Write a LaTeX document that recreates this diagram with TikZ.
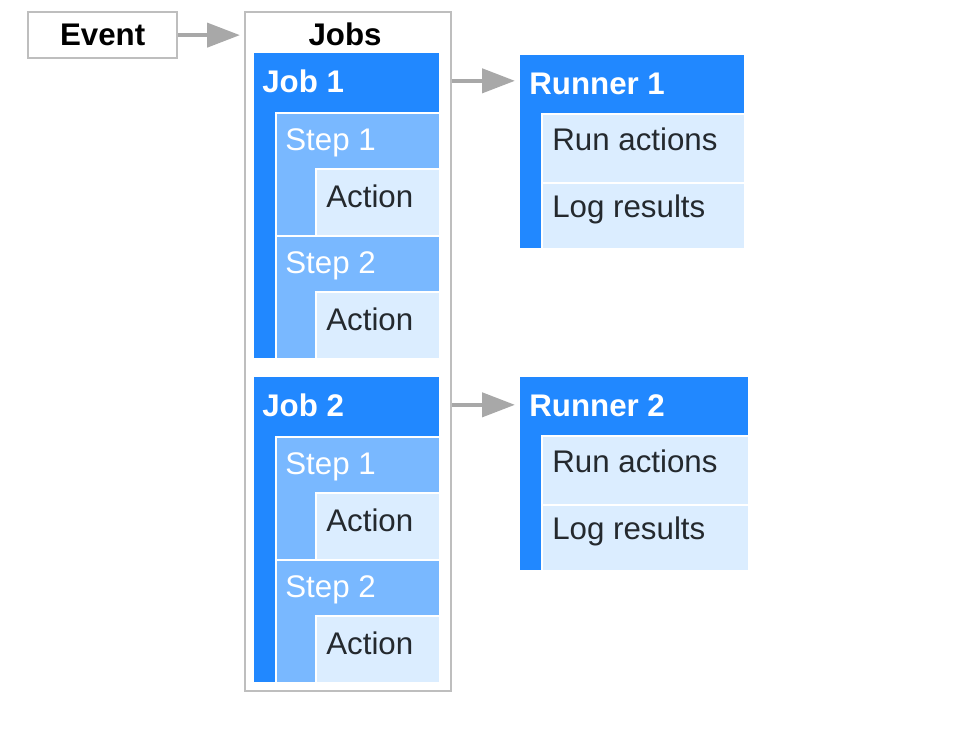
\documentclass[tikz,border=0pt]{standalone}
\usepackage{fontspec}
\setmainfont{Liberation Sans}
\usetikzlibrary{arrows.meta,positioning}
\definecolor{ghblue}{RGB}{33,136,255}
\definecolor{ghsky}{RGB}{121,184,255}
\definecolor{ghpale}{RGB}{219,237,255}
\definecolor{ghink}{RGB}{36,41,46}
\definecolor{rim}{RGB}{190,190,190}
\definecolor{pipe}{RGB}{168,168,168}
\newcommand\figfont{\fontsize{17.8}{21}\selectfont}
\tikzset{
  >={Triangle[length=6.6mm,width=4.8mm]},
  frame/.style={draw=rim,line width=0.45mm,inner sep=0pt,anchor=north west},
  panel/.style={fill=#1,anchor=north west,inner sep=0pt},
  panel/.default=ghblue,
  cell/.style={panel=#1,draw=white,line width=0.4mm},
  cell/.default=ghpale,
  head/.style={font=\figfont\bfseries,text=white,anchor=base west,inner sep=0pt},
  sub/.style={font=\figfont,text=white,anchor=base west,inner sep=0pt},
  item/.style={font=\figfont,text=ghink,anchor=base west,inner sep=0pt},
  flow/.style={->,draw=pipe,line width=0.85mm},
}
\begin{document}
\begin{tikzpicture}[x=0.02cm,y=-0.02cm]
  \useasboundingbox (0,0) rectangle (975,752);
  \node[frame,minimum width=2.98cm,minimum height=0.92cm,font=\figfont\bfseries,text=black] (event) at (27,11) {Event};
  \node[frame,minimum width=4.12cm,minimum height=13.58cm] (jobs) at (244,11) {};
  \node[head,text=black,anchor=base] (jobst) at (345,45) {Jobs};
  % jobs with their steps, runners on the right
  \foreach \j/\dy/\ry/\rw in {1/0/0/4.48cm,2/324/322/4.56cm}{
    \node[panel,minimum width=3.7cm,minimum height=6.1cm] (job\j) at (254,53+\dy) {};
    \node[head] (jobtxt\j) at (262,92+\dy) {Job \j};
    \foreach \s/\sy/\n in {1/0/a,2/123/b}{
      \node[cell=ghsky,minimum width=3.28cm,minimum height=2.46cm] (step\j\n) at (275,112+\dy+\sy) {};
      \node[sub] (steptxt\j\n) at (285,150+\dy+\sy) {Step \s};
      \node[cell,minimum width=2.48cm,minimum height=1.34cm] (act\j\n) at (315,168+\dy+\sy) {};
      \node[item] (acttxt\j\n) at (326,207+\dy+\sy) {Action};
    }
    \node[panel,minimum width=\rw,minimum height=3.86cm] (runner\j) at (520,55+\ry) {};
    \node[head] (runtxt\j) at (529,94+\ry) {Runner \j};
    \node[cell,minimum width=\rw-0.42cm,minimum height=1.38cm] (runa\j) at (541,113+\ry) {};
    \node[item] (runatxt\j) at (552,150+\ry) {Run actions};
    \node[cell,minimum width=\rw-0.42cm,minimum height=1.32cm] (runb\j) at (541,182+\ry) {};
    \node[item] (runbtxt\j) at (552,217+\ry) {Log results};
  }
  \draw[flow,shorten >=0.8mm] (event) -- (event -| jobs.west);
  \draw[flow,shorten >=1mm] (jobtxt1 -| jobs.east) -- (jobtxt1 -| runner1.west);
  \draw[flow,shorten >=1mm] (jobtxt2 -| jobs.east) -- (jobtxt2 -| runner2.west);
\end{tikzpicture}
\end{document}
